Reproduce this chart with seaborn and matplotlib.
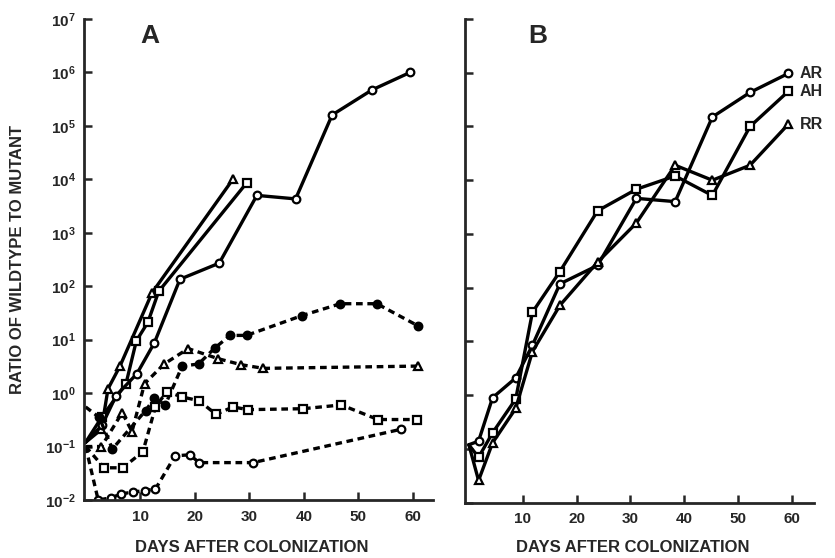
import numpy as np
import pandas as pd
import seaborn as sns
import matplotlib
matplotlib.use('Agg')
import matplotlib.pyplot as plt
from matplotlib.ticker import FixedLocator, NullLocator

# panel A, solid lines (days, ratio)
a_tri_days = [0, 2.9, 4.1, 6.3, 12.2, 27.0]
a_tri_vals = [0.12, 0.21, 1.2, 3.2, 76, 10000]
a_sq_days = [0, 3.0, 7.4, 9.3, 11.4, 13.4, 29.5]
a_sq_vals = [0.12, 0.36, 1.5, 9.5, 21, 80, 8500]
a_circ_days = [0, 3.0, 5.6, 9.4, 12.6, 17.3, 24.5, 31.4, 38.5, 45.2, 52.5, 59.5]
a_circ_vals = [0.12, 0.25, 0.9, 2.3, 8.7, 135, 270, 5000, 4300, 1.6e5, 4.7e5, 1.0e6]

# panel A, dashed lines
d_fill_days = [0, 2.5, 4.9, 11.0, 12.6, 14.6, 17.7, 20.7, 23.7, 26.5, 29.5, 39.6, 46.7, 53.4, 61.0]
d_fill_vals = [0.55, 0.35, 0.09, 0.47, 0.8, 0.6, 3.2, 3.5, 7, 12, 12, 28, 47, 47, 18]
d_tri_days = [0, 2.9, 6.7, 8.5, 10.8, 14.4, 18.8, 24.3, 28.5, 32.6, 61.0]
d_tri_vals = [0.1, 0.1, 0.43, 0.19, 1.5, 3.5, 6.8, 4.4, 3.4, 2.9, 3.2]
d_sq_days = [0, 3.4, 6.8, 10.5, 12.8, 14.9, 17.6, 20.8, 23.9, 27.0, 29.8, 39.9, 46.9, 53.6, 60.7]
d_sq_vals = [0.1, 0.04, 0.04, 0.08, 0.55, 1.07, 0.85, 0.72, 0.4, 0.55, 0.49, 0.51, 0.6, 0.32, 0.32]
d_circ_days = [0, 2.3, 4.7, 6.5, 8.6, 10.8, 12.8, 16.4, 19.1, 20.8, 30.7, 57.8]
d_circ_vals = [0.1, 0.01, 0.011, 0.013, 0.014, 0.015, 0.016, 0.067, 0.07, 0.05, 0.05, 0.21]

# panel B
b_days = [0, 1.8, 4.4, 8.7, 11.8, 16.9, 23.9, 31.1, 38.3, 45.2, 52.2, 59.3]
ar_vals = [0.12, 0.14, 0.9, 2.1, 8.5, 118, 260, 4600, 4000, 1.5e5, 4.3e5, 9.7e5]
ah_vals = [0.12, 0.07, 0.2, 0.85, 35, 200, 2700, 6800, 12000, 5200, 1.0e5, 4.5e5]
rr_vals = [0.12, 0.026, 0.13, 0.57, 6.5, 47, 300, 1600, 19000, 10000, 19000, 1.1e5]

ytick_vals = [1e-2, 1e-1, 1e0, 1e1, 1e2, 1e3, 1e4, 1e5, 1e6, 1e7]
ytick_labels = ['$10^{-2}$', '$10^{-1}$', '$10^{0}$', '$10^{1}$', '$10^{2}$',
                '$10^{3}$', '$10^{4}$', '$10^{5}$', '$10^{6}$', '$10^{7}$']
xtick_vals = [10, 20, 30, 40, 50, 60]

sns.set_style("ticks")
plt.rcParams['font.family'] = ['Liberation Sans', 'DejaVu Sans']
plt.rcParams['font.weight'] = 'bold'
plt.rcParams['mathtext.fontset'] = 'custom'
plt.rcParams['mathtext.rm'] = 'Liberation Sans:bold'
plt.rcParams['mathtext.it'] = 'Liberation Sans:bold'
plt.rcParams['mathtext.bf'] = 'Liberation Sans:bold'
plt.rcParams['mathtext.default'] = 'rm'

fig = plt.figure(figsize=(8.35, 5.58), dpi=100)
axA = fig.add_axes([0.1006, 0.104, 0.418, 0.862])
axB = fig.add_axes([0.557, 0.099, 0.418, 0.867])

def draw(ax, days, vals, marker, dashed=False, filled=False):
    # first point sits on the axis and has no symbol
    d = pd.DataFrame({'day': days, 'ratio': vals})
    sns.lineplot(data=d, x='day', y='ratio', ax=ax, sort=False, color='black',
                 lw=2.4, marker=marker, markersize=6 if marker != 'o' else 5.5,
                 markevery=list(range(1, len(days))),
                 markerfacecolor='black' if filled else 'white',
                 markeredgecolor='black', markeredgewidth=1.6,
                 linestyle=(0, (2.0, 1.4)) if dashed else '-')

draw(axA, a_tri_days, a_tri_vals, '^')
draw(axA, a_sq_days, a_sq_vals, 's')
draw(axA, a_circ_days, a_circ_vals, 'o')
draw(axA, d_fill_days, d_fill_vals, 'o', dashed=True, filled=True)
draw(axA, d_tri_days, d_tri_vals, '^', dashed=True)
draw(axA, d_sq_days, d_sq_vals, 's', dashed=True)
draw(axA, d_circ_days, d_circ_vals, 'o', dashed=True)

draw(axB, b_days, ar_vals, 'o')
draw(axB, b_days, ah_vals, 's')
draw(axB, b_days, rr_vals, '^')

for ax, xl, ly in [(axA, (-0.3, 63.7), -0.083), (axB, (-0.7, 64.1), -0.076)]:
    ax.set_yscale('log')
    ax.set_ylim(1e-2, 1e7)
    ax.set_xlim(*xl)
    ax.yaxis.set_major_locator(FixedLocator(ytick_vals))
    ax.yaxis.set_minor_locator(NullLocator())
    ax.set_xticks(xtick_vals)
    ax.set_xticklabels([str(v) for v in xtick_vals])
    ax.tick_params(direction='in', length=6, width=1.8, labelsize=11, pad=6)
    ax.tick_params(axis='x', pad=7)
    for s in ['top', 'right']:
        ax.spines[s].set_visible(False)
    for s in ['left', 'bottom']:
        ax.spines[s].set_linewidth(2)
    ax.set_xlabel('DAYS AFTER COLONIZATION', fontsize=12, fontweight='bold')
    ax.xaxis.set_label_coords(0.48, ly)
    ax.set_ylabel('')

axA.set_yticklabels(ytick_labels)
axB.set_yticklabels([])
axA.set_ylabel('RATIO OF WILDTYPE TO MUTANT', fontsize=12, fontweight='bold')
axA.yaxis.set_label_coords(-0.17, 0.5)

axA.text(0.16, 0.99, 'A', transform=axA.transAxes, fontsize=19, fontweight='bold', va='top')
axB.text(0.18, 0.99, 'B', transform=axB.transAxes, fontsize=19, fontweight='bold', va='top')

for lab, vals in [('AR', ar_vals), ('AH', ah_vals), ('RR', rr_vals)]:
    axB.annotate(lab, xy=(b_days[-1], vals[-1]), xytext=(8, 0), textcoords='offset points',
                 va='center', ha='left', fontsize=11.5, fontweight='bold', annotation_clip=False)

fig.savefig('out.png', dpi=100, facecolor='white')
